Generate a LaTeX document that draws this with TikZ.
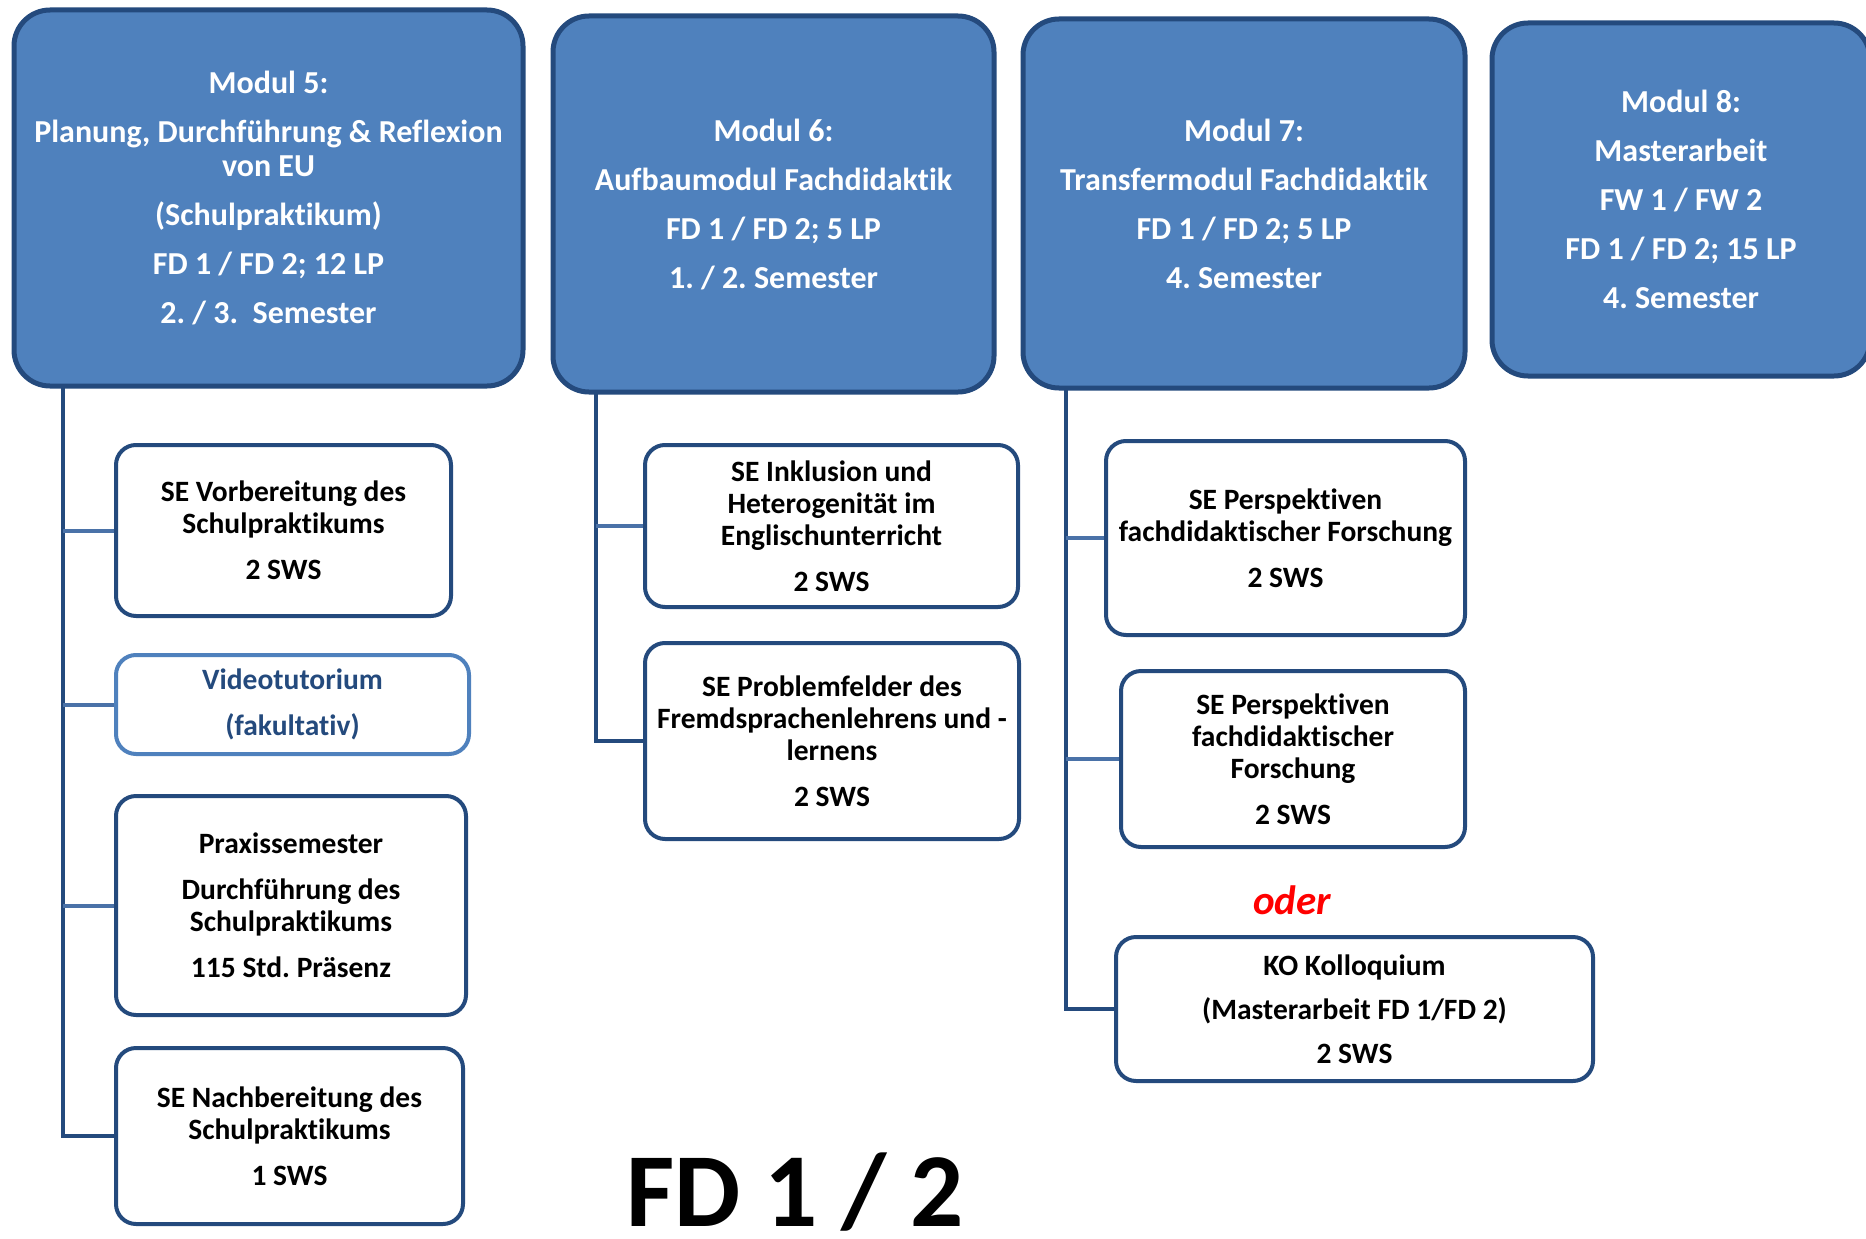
\documentclass[tikz,border=0pt]{standalone}
\usepackage{fontspec}
\setmainfont{Carlito}[Ligatures=NoCommon]
\frenchspacing
\definecolor{kopf}{RGB}{79,129,189}
\definecolor{rand}{RGB}{36,74,125}
\definecolor{astblau}{RGB}{74,114,168}
\tikzstyle{modul} = [draw=rand, line width=5pt, fill=kopf, rounded corners=36pt, text=white, align=center, inner sep=0pt, font=\fontsize{32}{34}\selectfont\bfseries]
\tikzstyle{kurs} = [draw=rand, line width=4pt, fill=white, rounded corners=20pt, align=center, inner sep=0pt, font=\fontsize{29.5}{32}\selectfont\bfseries]
\tikzstyle{tutor} = [kurs, draw=kopf, text=rand]
\tikzstyle{stamm} = [draw=rand, line width=4pt]
\tikzstyle{ast} = [draw=astblau, line width=4pt]

\begin{document}
\begin{tikzpicture}[x=1pt, y=-1pt]
  \clip (0,0) rectangle (1866,1239);
  % Module
  \node (m5) at (268.5,198) [modul, minimum width=509pt, minimum height=376pt] {Modul 5:\\[15pt] Planung, Durchführung \& Reflexion\\ von EU\\[15pt] (Schulpraktikum)\\[15pt] FD 1 / FD 2; 12 LP\\[15pt] 2. / 3.\ \ Semester};
  \node (m6) at (773.5,204) [modul, minimum width=441pt, minimum height=376pt] {Modul 6:\\[15pt] Aufbaumodul Fachdidaktik\\[15pt] FD 1 / FD 2; 5 LP\\[15pt] 1. / 2. Semester};
  \node (m7) at (1244,203.5) [modul, minimum width=442pt, minimum height=369pt] {Modul 7:\\[15pt] Transfermodul Fachdidaktik\\[15pt] FD 1 / FD 2; 5 LP\\[15pt] 4. Semester};
  \node (m8) at (1681,199.5) [modul, minimum width=378pt, minimum height=353pt] {Modul 8:\\[15pt] Masterarbeit\\[15pt] FW 1 / FW 2\\[15pt] FD 1 / FD 2; 15 LP\\[15pt] 4. Semester};

  % Veranstaltungen
  \node (v1) at (283.5,530.5) [kurs, minimum width=335pt, minimum height=171pt] {SE Vorbereitung des\\ Schulpraktikums\\[14pt] 2 SWS};
  \node (v2) at (292.5,704.5) [tutor, minimum width=353pt, minimum height=99pt] {Videotutorium\\[14pt] (fakultativ)};
  \node (v3) at (291,905.5) [kurs, minimum width=350pt, minimum height=219pt] {Praxissemester\\[14pt] Durchführung des\\ Schulpraktikums\\[14pt] 115 Std. Präsenz};
  \node (v4) at (289.5,1136) [kurs, minimum width=347pt, minimum height=176pt] {SE Nachbereitung des\\ Schulpraktikums\\[14pt] 1 SWS};

  \node (i1) at (831.5,526) [kurs, minimum width=373pt, minimum height=162pt] {SE Inklusion und\\ Heterogenität im\\ Englischunterricht\\[14pt] 2 SWS};
  \node (i2) at (832,741) [kurs, minimum width=374pt, minimum height=196pt] {SE Problemfelder des\\ Fremdsprachenlehrens und -\\ lernens\\[14pt] 2 SWS};

  \node (p1) at (1285.5,538) [kurs, minimum width=359pt, minimum height=194pt] {SE Perspektiven\\ fachdidaktischer Forschung\\[14pt] 2 SWS};
  \node (p2) at (1293,759) [kurs, minimum width=344pt, minimum height=176pt] {SE Perspektiven\\ fachdidaktischer\\ Forschung\\[14pt] 2 SWS};
  \node (oder) at (1292,914) [anchor=base, text=red, font=\fontsize{41}{46}\selectfont\bfseries\itshape] {oder};
  \node (ko) at (1354.5,1009) [kurs, minimum width=477pt, minimum height=144pt] {KO Kolloquium\\[12pt] (Masterarbeit FD 1/FD 2)\\[12pt] 2 SWS};

  \node (fd) at (795,1226) [anchor=base, font=\fontsize{105}{110}\selectfont\bfseries] {FD 1 / 2};

  % Verbindungen
  \coordinate (k5) at (63,388);
  \coordinate (k6) at (596,394);
  \coordinate (k7) at (1066,390);
  \draw [stamm] (k5) |- (v4.west);
  \draw [ast] (k5 |- v1.west) -- (v1.west);
  \draw [ast] (k5 |- v2.west) -- (v2.west);
  \draw [ast] (k5 |- v3.west) -- (v3.west);
  \draw [stamm] (k6) |- (i2.west);
  \draw [ast] (k6 |- i1.west) -- (i1.west);
  \draw [stamm] (k7) |- (ko.west);
  \draw [ast] (k7 |- p1.west) -- (p1.west);
  \draw [ast] (k7 |- p2.west) -- (p2.west);
\end{tikzpicture}
\end{document}
